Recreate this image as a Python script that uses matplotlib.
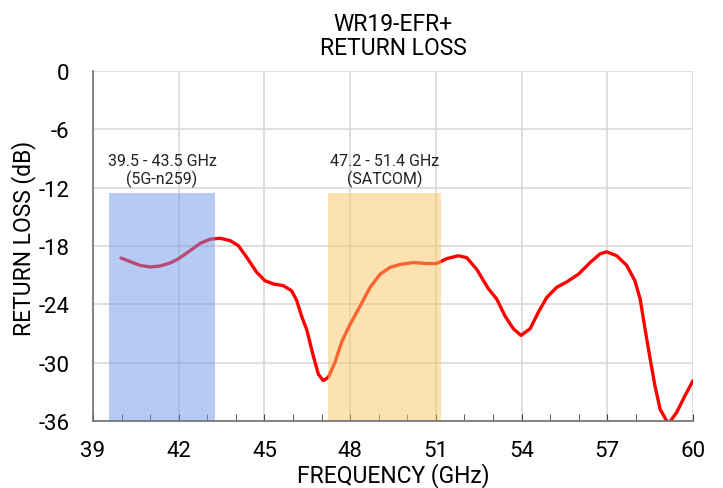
import matplotlib
matplotlib.use("Agg")
import matplotlib.pyplot as plt
from matplotlib.ticker import MultipleLocator

plt.rcParams['font.family'] = ['Roboto', 'DejaVu Sans']
plt.rcParams['axes.unicode_minus'] = False

freq = [39.98, 40.3, 40.64, 41.0, 41.35, 41.7, 42.0, 42.4, 42.75, 43.1, 43.45, 43.8,
        44.09, 44.38, 44.73, 45.02, 45.31, 45.66, 45.95, 46.13, 46.3, 46.48, 46.71,
        46.89, 47.06, 47.24, 47.47, 47.7, 47.94, 48.29, 48.7, 49.05, 49.4, 49.75,
        50.21, 50.68, 51.03, 51.38, 51.79, 52.08, 52.43, 52.84, 53.13, 53.42, 53.71,
        53.98, 54.3, 54.59, 54.88, 55.23, 55.58, 55.99, 56.4, 56.75, 56.98, 57.33,
        57.68, 57.97, 58.15, 58.32, 58.5, 58.67, 58.85, 59.14, 59.43, 59.72, 60.0]
rl = [-19.24, -19.6, -19.99, -20.16, -20.06, -19.75, -19.3, -18.48, -17.73, -17.3, -17.2, -17.45,
      -17.97, -19.16, -20.7, -21.57, -21.9, -22.08, -22.6, -23.6, -25.2, -26.6, -29.3,
      -31.2, -31.85, -31.5, -29.97, -27.9, -26.4, -24.5, -22.25, -20.9, -20.2, -19.9,
      -19.7, -19.8, -19.8, -19.3, -19.0, -19.2, -20.4, -22.4, -23.45, -25.2, -26.5,
      -27.2, -26.5, -24.8, -23.3, -22.25, -21.7, -20.9, -19.7, -18.8, -18.6, -19.0,
      -20.0, -21.6, -23.45, -26.5, -29.6, -32.4, -34.8, -36.3, -35.1, -33.4, -31.85]

band_start = [39.56, 47.24]
band_end = [43.27, 51.17]
band_labels = ["39.5 - 43.5 GHz\n(5G-n259)", "47.2 - 51.4 GHz\n(SATCOM)"]
band_colors = ["#7197eb", "#fbc765"]
band_top = -12.55
label_y = -10.2

fig = plt.figure(figsize=(7.23, 4.89), dpi=100)
ax = fig.add_axes([0.1286, 0.137, 0.8299, 0.7158])

ax.plot(freq, rl, color="#ff0000", lw=2.4, zorder=2, solid_capstyle="round",
        solid_joinstyle="round")
for a, b, lab, c in zip(band_start, band_end, band_labels, band_colors):
    ax.fill_between([a, b], -36, band_top, color=c, alpha=0.5, lw=0, zorder=3)
    ax.text((a + b) / 2, label_y, lab, ha="center", va="center",
            fontsize=11.5, color="#222222", linespacing=1.15)

ax.set_xlim(39, 60)
ax.set_ylim(-36, 0)
ax.xaxis.set_major_locator(MultipleLocator(3))
ax.xaxis.set_minor_locator(MultipleLocator(1))
ax.yaxis.set_major_locator(MultipleLocator(6))
ax.grid(True, which="major", color="#d9d9d9", lw=1.2, zorder=0)
ax.set_axisbelow(True)
for s in ["top", "right"]:
    ax.spines[s].set_visible(False)
for s in ["left", "bottom"]:
    ax.spines[s].set_color("#707070")
    ax.spines[s].set_linewidth(1.2)
    ax.spines[s].set_zorder(4)
ax.tick_params(axis="x", which="both", direction="in", length=5, color="#404040",
               labelsize=16, pad=14)
ax.tick_params(axis="y", length=0, labelsize=16, pad=17)
ax.set_xlabel("FREQUENCY (GHz)", fontsize=16.5)
ax.xaxis.set_label_coords(0.5, -0.118)
ax.set_ylabel("RETURN LOSS (dB)", fontsize=16.5)
ax.yaxis.set_label_coords(-0.095, 0.524)
ax.set_title("WR19-EFR+\nRETURN LOSS", fontsize=16.5, pad=12, linespacing=1.1)

fig.savefig("out.png", dpi=100)
